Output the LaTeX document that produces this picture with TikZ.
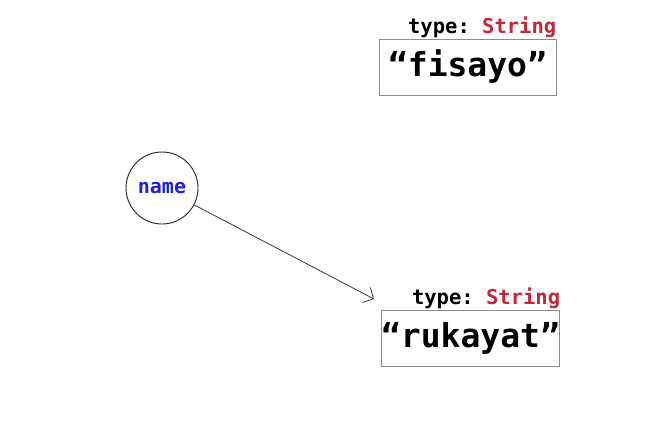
\documentclass[tikz,border=0pt]{standalone}
\usepackage{fontspec}
\setmonofont{DejaVu Sans Mono}
\usetikzlibrary{arrows.meta, positioning}
\definecolor{typered}{RGB}{198,38,58}
\definecolor{varblue}{RGB}{30,30,225}
\definecolor{boxgray}{RGB}{140,140,140}
\definecolor{linegray}{RGB}{60,60,60}
\tikzset{
  value/.style={
    draw=boxgray,
    line width=0.9pt,
    minimum width=177pt,
    minimum height=56pt,
    inner sep=0pt,
    font=\fontsize{33}{36}\selectfont\ttfamily\bfseries
  },
  typelbl/.style={anchor=base east, inner sep=0pt, font=\fontsize{20.5}{24}\selectfont\ttfamily\bfseries},
  var/.style={circle, draw=black!85, line width=0.9pt, minimum size=72pt, inner sep=0pt,
    text=varblue, font=\fontsize{20}{24}\selectfont\ttfamily\bfseries},
  ptr/.style={-{Straight Barb[length=8pt, width=17pt]}, line width=0.8pt, draw=linegray}
}
\begin{document}
\begin{tikzpicture}[x=1pt, y=1pt]
  \useasboundingbox[fill=white] (0,0) rectangle (650,432);
  \node[var] (name) at (162,244) {name};
  \node[value] (fisayo) at (467.5,365) {“fisayo”};
  \node[value] (rukayat) at (470.5,94) {“rukayat”};
  \node[typelbl] (type1) at ([yshift=5pt]fisayo.north east) {type: \textcolor{typered}{String}};
  \node[typelbl] (type2) at ([yshift=5pt]rukayat.north east) {type: \textcolor{typered}{String}};
  \coordinate (tip) at (374,133);

  \draw[ptr] (name) -- (tip);
\end{tikzpicture}
\end{document}
